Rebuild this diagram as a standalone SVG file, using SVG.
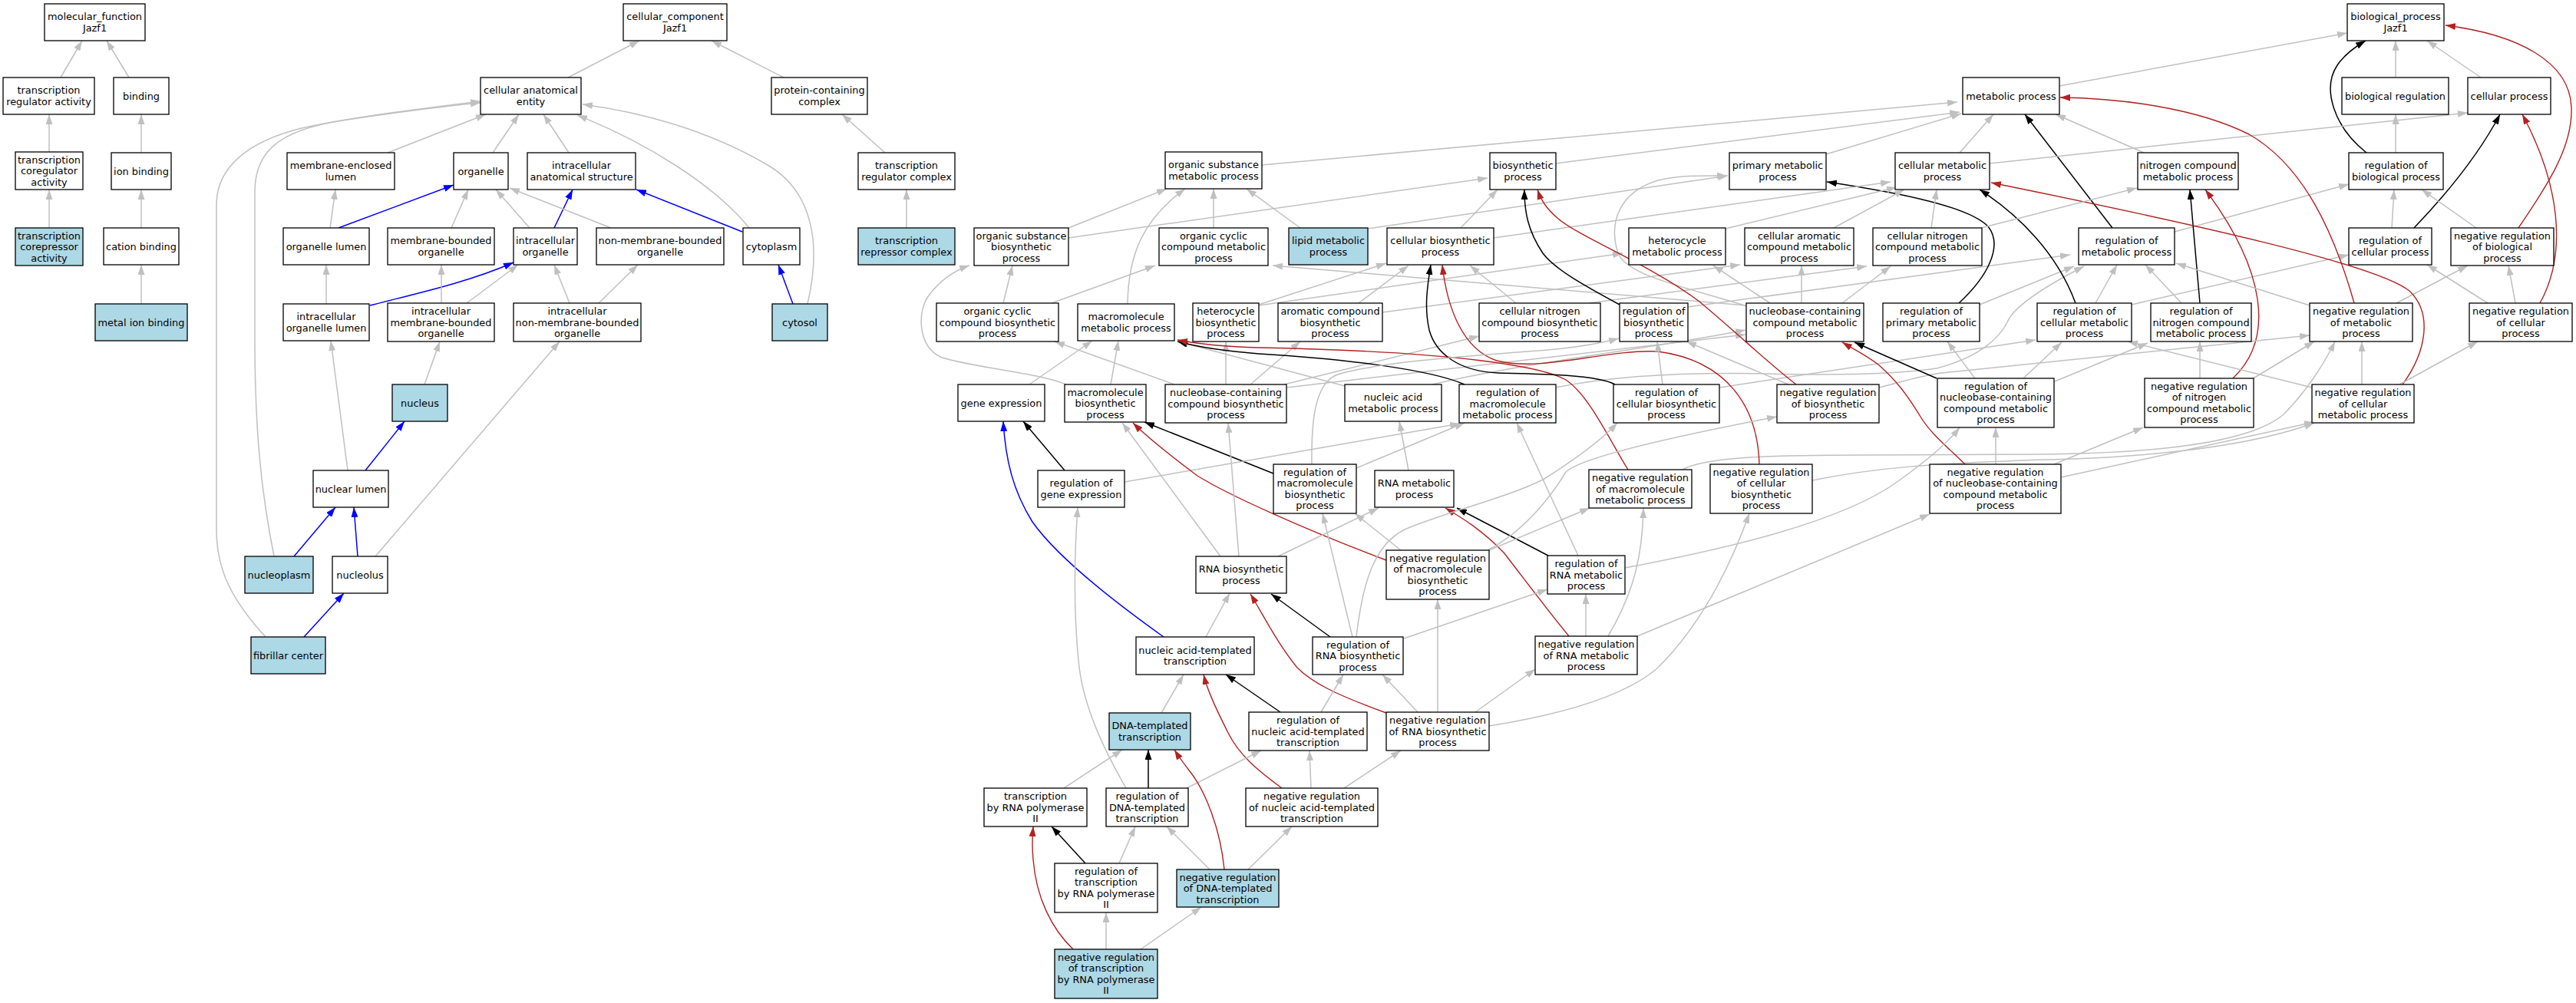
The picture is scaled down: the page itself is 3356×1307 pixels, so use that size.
<svg xmlns="http://www.w3.org/2000/svg" width="3356" height="1307" viewBox="0 0 3356 1307">
<style>
.n rect{fill:#fff;stroke:#000;stroke-width:1.3}
.n.hl rect{fill:#add8e6}
.n text{font-family:"DejaVu Sans","Liberation Sans",sans-serif;font-size:12.9px;text-anchor:middle;fill:#000}
.e path{fill:none;stroke-width:1.5}
.e path.g{stroke:#c0c0c0;marker-end:url(#mg)}
.e path.k{stroke:#000;marker-end:url(#mk)}
.e path.b{stroke:#0000ff;marker-end:url(#mb)}
.e path.r{stroke:#b22222;stroke-width:1.4;marker-end:url(#mr)}
</style>
<defs>
<marker id="mg" viewBox="0 0 13 9" refX="13" refY="4.5" markerWidth="13" markerHeight="9" markerUnits="userSpaceOnUse" orient="auto"><path d="M0,0L13,4.5L0,9z" fill="#c0c0c0"/></marker>
<marker id="mk" viewBox="0 0 13 9" refX="13" refY="4.5" markerWidth="13" markerHeight="9" markerUnits="userSpaceOnUse" orient="auto"><path d="M0,0L13,4.5L0,9z" fill="#000"/></marker>
<marker id="mb" viewBox="0 0 13 9" refX="13" refY="4.5" markerWidth="13" markerHeight="9" markerUnits="userSpaceOnUse" orient="auto"><path d="M0,0L13,4.5L0,9z" fill="#0000ff"/></marker>
<marker id="mr" viewBox="0 0 13 9" refX="13" refY="4.5" markerWidth="13" markerHeight="9" markerUnits="userSpaceOnUse" orient="auto"><path d="M0,0L13,4.5L0,9z" fill="#b22222"/></marker>
</defs>
<rect width="3356" height="1307" fill="#fff"/>
<g id="edges" class="e">
<path class="g" d="M79,101 L107,53"/>
<path class="g" d="M168,101 L139,53"/>
<path class="g" d="M64,198 L64,149"/>
<path class="g" d="M184,199 L184,149"/>
<path class="g" d="M64,297 L64,247"/>
<path class="g" d="M184,297 L184,247"/>
<path class="g" d="M184,396 L184,345"/>
<path class="g" d="M740,101 L833,53"/>
<path class="g" d="M1021,101 L927,53"/>
<path class="g" d="M1153,199 L1097,149"/>
<path class="g" d="M1181,297 L1181,247"/>
<path class="g" d="M642,199 L676,149"/>
<path class="g" d="M741,199 L708,149"/>
<path class="g" d="M505,199 L633,149"/>
<path class="g" d="M976,297 C930,240 840,185 752,150"/>
<path class="g" d="M1052,396 C1070,320 1060,250 1000,215 C920,168 830,145 759,136"/>
<path class="b" d="M967,302 L829,247"/>
<path class="b" d="M1033,396 L1014,345"/>
<path class="b" d="M722,297 L746,247"/>
<path class="g" d="M690,297 L646,247"/>
<path class="g" d="M588,297 L610,247"/>
<path class="g" d="M796,297 L664,245"/>
<path class="b" d="M441,297 L591,241"/>
<path class="g" d="M430,297 L437,247"/>
<path class="g" d="M425,396 L425,345"/>
<path class="b" d="M482,398 C540,383 610,368 669,342"/>
<path class="g" d="M575,395 L575,345"/>
<path class="g" d="M608,395 L675,345"/>
<path class="g" d="M742,395 L722,345"/>
<path class="g" d="M780,395 L831,345"/>
<path class="g" d="M553,501 L573,445"/>
<path class="b" d="M476,613 L527,549"/>
<path class="g" d="M453,613 L431,444"/>
<path class="b" d="M383,725 L437,661"/>
<path class="b" d="M466,725 L461,661"/>
<path class="g" d="M489,725 L729,445"/>
<path class="b" d="M396,830 L448,773"/>
<path class="g" d="M357,725 C340,640 332,560 332,440 L332,250 C332,200 360,170 446,157 C520,146 580,138 626,134"/>
<path class="g" d="M346,830 C300,780 282,740 282,690 L282,267 C282,220 320,185 393,167 C460,152 560,140 626,132"/>
<path class="g" d="M2683,112 L3058,43"/>
<path class="g" d="M3121,101 L3121,53"/>
<path class="g" d="M3232,101 L3162,53"/>
<path class="k" d="M3083,199 C3040,165 3025,115 3045,85 C3055,70 3070,60 3082,53"/>
<path class="r" d="M3281,297 C3320,240 3352,190 3350,140 C3348,80 3280,45 3186,33"/>
<path class="g" d="M3121,199 L3121,149"/>
<path class="g" d="M3116,297 L3119,247"/>
<path class="k" d="M3145,297 C3190,250 3230,200 3257,149"/>
<path class="g" d="M3226,297 L3155,247"/>
<path class="r" d="M3309,395 C3345,330 3335,240 3286,149"/>
<path class="g" d="M3241,395 L3162,345"/>
<path class="g" d="M3277,395 L3268,346"/>
<path class="g" d="M2833,302 L3060,240"/>
<path class="k" d="M2752,297 L2638,149"/>
<path class="g" d="M2793,199 L2678,149"/>
<path class="g" d="M2592,213 L3215,147"/>
<path class="g" d="M2777,397 L3060,332"/>
<path class="g" d="M2730,395 L2758,345"/>
<path class="g" d="M2842,395 L2795,345"/>
<path class="k" d="M2866,395 L2853,247"/>
<path class="r" d="M2909,493 C2965,440 2950,350 2873,247"/>
<path class="g" d="M3009,398 L2835,343"/>
<path class="r" d="M3067,395 C3040,300 3000,215 2930,175 C2860,140 2760,128 2684,127"/>
<path class="g" d="M3122,395 L3215,346"/>
<path class="g" d="M3077,501 L3077,445"/>
<path class="g" d="M2192,612 C2220,596 2300,593 2425,593 L2660,592 C2850,590 2940,570 2975,540 C3000,515 3025,480 3042,445"/>
<path class="g" d="M2929,497 L3015,445"/>
<path class="g" d="M2448,505 C2480,497 2500,490 2530,486 L3009,437"/>
<path class="g" d="M3012,505 L2772,445"/>
<path class="r" d="M3130,501 C3160,460 3170,410 3140,380 C3100,345 2850,290 2594,238"/>
<path class="g" d="M3126,501 L3228,445"/>
<path class="g" d="M2685,622 L3015,550"/>
<path class="g" d="M2361,626 C2440,610 2514,603 2700,598 C2850,592 2950,575 3015,551"/>
<path class="g" d="M2240,505 L2652,443"/>
<path class="g" d="M2027,505 C2100,490 2200,485 2300,487 C2420,490 2490,485 2523,480 C2580,465 2605,440 2615,420 C2625,395 2680,365 2715,347"/>
<path class="g" d="M2199,400 L2697,332"/>
<path class="g" d="M2579,397 L2702,347"/>
<path class="k" d="M2552,395 C2590,360 2610,320 2590,295 C2560,265 2450,248 2380,237"/>
<path class="k" d="M2523,493 L2416,446"/>
<path class="g" d="M2573,493 L2537,445"/>
<path class="g" d="M2636,493 L2686,446"/>
<path class="g" d="M2677,497 L2798,447"/>
<path class="k" d="M2704,395 C2680,330 2630,280 2579,247"/>
<path class="r" d="M2560,605 C2540,585 2515,565 2502,543 C2485,515 2470,495 2447,475 C2430,462 2415,455 2400,446"/>
<path class="g" d="M2600,605 L2600,557"/>
<path class="g" d="M2676,605 L2792,557"/>
<path class="g" d="M2866,493 L2866,445"/>
<path class="g" d="M2516,297 L2523,247"/>
<path class="g" d="M2581,297 L2784,245"/>
<path class="g" d="M2389,297 L2481,247"/>
<path class="g" d="M2248,298 L2471,244"/>
<path class="g" d="M1946,310 L2463,237"/>
<path class="g" d="M1903,297 L1951,247"/>
<path class="g" d="M1782,298 L2251,229"/>
<path class="g" d="M1694,297 L1624,246"/>
<path class="g" d="M1644,215 L2550,133"/>
<path class="g" d="M2027,213 L2553,146"/>
<path class="g" d="M2379,201 L2555,148"/>
<path class="g" d="M2553,199 L2597,149"/>
<path class="g" d="M1392,297 L1520,246"/>
<path class="g" d="M1392,310 L1938,232"/>
<path class="g" d="M1581,297 L1581,246"/>
<path class="g" d="M1469,396 C1470,330 1490,285 1544,246"/>
<path class="g" d="M1307,395 L1319,346"/>
<path class="g" d="M1370,395 L1505,346"/>
<path class="g" d="M1389,501 C1350,485 1260,478 1225,465 C1195,450 1195,405 1210,385 C1225,365 1245,352 1263,346"/>
<path class="g" d="M2275,398 L1658,346"/>
<path class="g" d="M2279,400 C2200,375 2120,360 2108,330 C2095,290 2110,250 2160,235 C2190,228 2220,229 2250,229"/>
<path class="g" d="M2306,395 L2232,346"/>
<path class="g" d="M2347,395 L2347,346"/>
<path class="g" d="M2400,395 L2463,347"/>
<path class="g" d="M1640,398 L2114,330"/>
<path class="g" d="M1640,397 L1806,343"/>
<path class="g" d="M1770,395 L1835,346"/>
<path class="g" d="M1801,407 L2267,345"/>
<path class="g" d="M1975,395 L1915,346"/>
<path class="g" d="M2070,395 L2432,347"/>
<path class="g" d="M1530,501 L1374,445"/>
<path class="g" d="M1597,501 L1597,445"/>
<path class="g" d="M1629,501 L1694,445"/>
<path class="g" d="M1673,501 L1927,438"/>
<path class="g" d="M1676,505 L2274,436"/>
<path class="g" d="M1752,503 L1535,445"/>
<path class="g" d="M1866,501 C2000,470 2150,455 2274,430"/>
<path class="g" d="M1341,501 L1423,444"/>
<path class="g" d="M1447,501 L1457,444"/>
<path class="k" d="M1908,501 C1860,480 1740,467 1640,461 C1590,457 1560,452 1534,445"/>
<path class="r" d="M2121,612 C2095,570 2070,515 2040,495 C2010,478 1900,458 1640,453 C1600,452 1570,450 1534,443"/>
<path class="r" d="M2292,605 C2290,530 2250,470 2160,458 C2090,455 2010,485 1950,470 C1905,455 1885,400 1879,345"/>
<path class="k" d="M2104,501 C2080,488 2000,487 1952,486 C1900,484 1870,460 1862,430 C1855,400 1860,370 1864,345"/>
<path class="k" d="M2110,397 C2060,370 2025,350 2010,330 C1990,300 1986,275 1986,247"/>
<path class="r" d="M2340,501 C2300,470 2270,440 2214,393 C2150,345 2060,310 2030,285 C2015,272 2008,262 2003,247"/>
<path class="g" d="M2166,501 L2159,445"/>
<path class="g" d="M2330,501 L2197,445"/>
<path class="g" d="M1709,605 C1708,540 1715,495 1746,487 C1800,472 1900,465 1990,458 C2040,455 2075,450 2109,441"/>
<path class="g" d="M1767,610 L1908,551"/>
<path class="k" d="M1659,617 L1491,550"/>
<path class="g" d="M1465,628 L1902,552"/>
<path class="k" d="M1387,613 L1333,549"/>
<path class="g" d="M1835,613 L1823,549"/>
<path class="g" d="M2056,724 L1976,551"/>
<path class="k" d="M2017,724 L1898,662"/>
<path class="g" d="M2117,740 C2250,715 2400,680 2473,627 C2510,600 2535,580 2553,557"/>
<path class="r" d="M2044,829 C2020,800 1990,760 1959,720 C1930,690 1905,675 1883,662"/>
<path class="g" d="M2066,829 L2066,774"/>
<path class="g" d="M2095,829 C2130,770 2140,720 2141,662"/>
<path class="g" d="M2133,829 L2514,670"/>
<path class="r" d="M1806,730 C1700,690 1600,645 1560,620 C1520,590 1495,570 1476,551"/>
<path class="g" d="M1940,717 L2071,662"/>
<path class="g" d="M1938,717 C1990,690 2025,640 2040,615 C2060,595 2200,565 2315,543"/>
<path class="g" d="M1825,717 L1765,669"/>
<path class="k" d="M1733,830 L1656,774"/>
<path class="g" d="M1829,832 L2016,768"/>
<path class="g" d="M1762,830 L1723,669"/>
<path class="g" d="M1767,830 C1775,760 1790,710 1830,690 C1880,668 1960,650 2010,625 C2050,600 2085,575 2107,551"/>
<path class="r" d="M1806,929 C1740,905 1710,890 1690,870 C1665,840 1645,800 1629,774"/>
<path class="g" d="M1847,928 L1801,879"/>
<path class="g" d="M1873,928 L1873,781"/>
<path class="g" d="M1922,928 L2000,872"/>
<path class="g" d="M1940,946 C2040,930 2120,905 2160,870 C2210,820 2250,750 2279,669"/>
<path class="g" d="M1571,830 L1602,773"/>
<path class="b" d="M1516,830 C1460,790 1380,730 1345,680 C1320,640 1310,600 1307,549"/>
<path class="k" d="M1668,928 L1597,879"/>
<path class="g" d="M1721,928 L1750,879"/>
<path class="g" d="M1513,929 L1542,879"/>
<path class="r" d="M1670,1027 C1640,1005 1615,985 1600,955 C1585,925 1573,900 1568,879"/>
<path class="g" d="M1708,1027 L1706,978"/>
<path class="g" d="M1751,1027 L1825,978"/>
<path class="k" d="M1496,1027 L1496,977"/>
<path class="g" d="M1546,1027 L1643,978"/>
<path class="g" d="M1467,1027 C1440,980 1410,920 1405,860 C1398,790 1400,720 1404,661"/>
<path class="g" d="M1386,1027 L1462,977"/>
<path class="k" d="M1414,1125 L1370,1077"/>
<path class="g" d="M1458,1125 L1479,1077"/>
<path class="g" d="M1576,1133 L1520,1077"/>
<path class="g" d="M1626,1133 L1683,1077"/>
<path class="r" d="M1595,1133 C1590,1080 1570,1030 1550,1005 C1540,992 1535,985 1530,977"/>
<path class="g" d="M1441,1237 L1441,1189"/>
<path class="g" d="M1486,1237 L1565,1182"/>
<path class="r" d="M1398,1237 C1370,1210 1350,1170 1346,1120 C1344,1100 1345,1090 1346,1077"/>
<path class="g" d="M1590,725 L1462,551"/>
<path class="g" d="M1614,725 L1600,551"/>
<path class="g" d="M1665,725 L1796,662"/>
</g>
<g id="n_mf" class="n"><rect x="58" y="5" width="131" height="48"/><text><tspan x="123.5" y="26.25">molecular_function</tspan><tspan x="123.5" y="40.75">Jazf1</tspan></text></g>
<g id="n_tra" class="n"><rect x="4" y="101" width="119" height="48"/><text><tspan x="63.5" y="122.25">transcription</tspan><tspan x="63.5" y="136.75">regulator activity</tspan></text></g>
<g id="n_binding" class="n"><rect x="148" y="101" width="72" height="48"/><text><tspan x="184" y="129.5">binding</tspan></text></g>
<g id="n_tca" class="n"><rect x="20" y="198" width="88" height="49"/><text><tspan x="64" y="212.5">transcription</tspan><tspan x="64" y="227">coregulator</tspan><tspan x="64" y="241.5">activity</tspan></text></g>
<g id="n_ionb" class="n"><rect x="145" y="199" width="78" height="48"/><text><tspan x="184" y="227.5">ion binding</tspan></text></g>
<g id="n_tcpa" class="n hl"><rect x="20" y="297" width="88" height="49"/><text><tspan x="64" y="311.5">transcription</tspan><tspan x="64" y="326">corepressor</tspan><tspan x="64" y="340.5">activity</tspan></text></g>
<g id="n_catb" class="n"><rect x="135" y="297" width="98" height="48"/><text><tspan x="184" y="325.5">cation binding</tspan></text></g>
<g id="n_metb" class="n hl"><rect x="124" y="396" width="120" height="48"/><text><tspan x="184" y="424.5">metal ion binding</tspan></text></g>
<g id="n_cc" class="n"><rect x="812" y="5" width="135" height="48"/><text><tspan x="879.5" y="26.25">cellular_component</tspan><tspan x="879.5" y="40.75">Jazf1</tspan></text></g>
<g id="n_cae" class="n"><rect x="626" y="101" width="131" height="48"/><text><tspan x="691.5" y="122.25">cellular anatomical</tspan><tspan x="691.5" y="136.75">entity</tspan></text></g>
<g id="n_pcc" class="n"><rect x="1005" y="101" width="125" height="48"/><text><tspan x="1067.5" y="122.25">protein-containing</tspan><tspan x="1067.5" y="136.75">complex</tspan></text></g>
<g id="n_mel" class="n"><rect x="374" y="199" width="140" height="48"/><text><tspan x="444" y="220.25">membrane-enclosed</tspan><tspan x="444" y="234.75">lumen</tspan></text></g>
<g id="n_org" class="n"><rect x="591" y="199" width="71" height="48"/><text><tspan x="626.5" y="227.5">organelle</tspan></text></g>
<g id="n_ias" class="n"><rect x="687" y="199" width="141" height="48"/><text><tspan x="757.5" y="220.25">intracellular</tspan><tspan x="757.5" y="234.75">anatomical structure</tspan></text></g>
<g id="n_trc" class="n"><rect x="1118" y="199" width="126" height="48"/><text><tspan x="1181" y="220.25">transcription</tspan><tspan x="1181" y="234.75">regulator complex</tspan></text></g>
<g id="n_ol" class="n"><rect x="369" y="297" width="112" height="48"/><text><tspan x="425" y="325.5">organelle lumen</tspan></text></g>
<g id="n_mbo" class="n"><rect x="505" y="297" width="139" height="48"/><text><tspan x="574.5" y="318.25">membrane-bounded</tspan><tspan x="574.5" y="332.75">organelle</tspan></text></g>
<g id="n_io" class="n"><rect x="669" y="297" width="83" height="48"/><text><tspan x="710.5" y="318.25">intracellular</tspan><tspan x="710.5" y="332.75">organelle</tspan></text></g>
<g id="n_nmbo" class="n"><rect x="777" y="297" width="166" height="48"/><text><tspan x="860" y="318.25">non-membrane-bounded</tspan><tspan x="860" y="332.75">organelle</tspan></text></g>
<g id="n_cyto" class="n"><rect x="968" y="297" width="74" height="48"/><text><tspan x="1005" y="325.5">cytoplasm</tspan></text></g>
<g id="n_trpc" class="n hl"><rect x="1118" y="297" width="126" height="48"/><text><tspan x="1181" y="318.25">transcription</tspan><tspan x="1181" y="332.75">repressor complex</tspan></text></g>
<g id="n_iol" class="n"><rect x="369" y="396" width="112" height="48"/><text><tspan x="425" y="417.25">intracellular</tspan><tspan x="425" y="431.75">organelle lumen</tspan></text></g>
<g id="n_imbo" class="n"><rect x="505" y="395" width="139" height="50"/><text><tspan x="574.5" y="410">intracellular</tspan><tspan x="574.5" y="424.5">membrane-bounded</tspan><tspan x="574.5" y="439">organelle</tspan></text></g>
<g id="n_inmbo" class="n"><rect x="669" y="395" width="166" height="50"/><text><tspan x="752" y="410">intracellular</tspan><tspan x="752" y="424.5">non-membrane-bounded</tspan><tspan x="752" y="439">organelle</tspan></text></g>
<g id="n_cytosol" class="n hl"><rect x="1006" y="396" width="72" height="48"/><text><tspan x="1042" y="424.5">cytosol</tspan></text></g>
<g id="n_nucleus" class="n hl"><rect x="511" y="501" width="72" height="48"/><text><tspan x="547" y="529.5">nucleus</tspan></text></g>
<g id="n_nl" class="n"><rect x="408" y="613" width="98" height="48"/><text><tspan x="457" y="641.5">nuclear lumen</tspan></text></g>
<g id="n_npl" class="n hl"><rect x="319" y="725" width="89" height="48"/><text><tspan x="363.5" y="753.5">nucleoplasm</tspan></text></g>
<g id="n_nuo" class="n"><rect x="433" y="725" width="72" height="48"/><text><tspan x="469" y="753.5">nucleolus</tspan></text></g>
<g id="n_fc" class="n hl"><rect x="327" y="830" width="97" height="48"/><text><tspan x="375.5" y="858.5">fibrillar center</tspan></text></g>
<g id="n_bp" class="n"><rect x="3058" y="5" width="126" height="48"/><text><tspan x="3121" y="26.25">biological_process</tspan><tspan x="3121" y="40.75">Jazf1</tspan></text></g>
<g id="n_met" class="n"><rect x="2557" y="101" width="126" height="48"/><text><tspan x="2620" y="129.5">metabolic process</tspan></text></g>
<g id="n_bioreg" class="n"><rect x="3051" y="101" width="139" height="48"/><text><tspan x="3120.5" y="129.5">biological regulation</tspan></text></g>
<g id="n_cellproc" class="n"><rect x="3215" y="101" width="108" height="48"/><text><tspan x="3269" y="129.5">cellular process</tspan></text></g>
<g id="n_osmp" class="n"><rect x="1518" y="198" width="126" height="48"/><text><tspan x="1581" y="219.25">organic substance</tspan><tspan x="1581" y="233.75">metabolic process</tspan></text></g>
<g id="n_bios" class="n"><rect x="1941" y="199" width="86" height="48"/><text><tspan x="1984" y="220.25">biosynthetic</tspan><tspan x="1984" y="234.75">process</tspan></text></g>
<g id="n_prim" class="n"><rect x="2253" y="199" width="126" height="48"/><text><tspan x="2316" y="220.25">primary metabolic</tspan><tspan x="2316" y="234.75">process</tspan></text></g>
<g id="n_cmp" class="n"><rect x="2469" y="199" width="123" height="48"/><text><tspan x="2530.5" y="220.25">cellular metabolic</tspan><tspan x="2530.5" y="234.75">process</tspan></text></g>
<g id="n_ncmp" class="n"><rect x="2785" y="199" width="131" height="48"/><text><tspan x="2850.5" y="220.25">nitrogen compound</tspan><tspan x="2850.5" y="234.75">metabolic process</tspan></text></g>
<g id="n_rbp" class="n"><rect x="3060" y="199" width="123" height="48"/><text><tspan x="3121.5" y="220.25">regulation of</tspan><tspan x="3121.5" y="234.75">biological process</tspan></text></g>
<g id="n_osbp" class="n"><rect x="1269" y="297" width="123" height="49"/><text><tspan x="1330.5" y="311.5">organic substance</tspan><tspan x="1330.5" y="326">biosynthetic</tspan><tspan x="1330.5" y="340.5">process</tspan></text></g>
<g id="n_occmp" class="n"><rect x="1510" y="297" width="142" height="49"/><text><tspan x="1581" y="311.5">organic cyclic</tspan><tspan x="1581" y="326">compound metabolic</tspan><tspan x="1581" y="340.5">process</tspan></text></g>
<g id="n_lipid" class="n hl"><rect x="1679" y="297" width="103" height="48"/><text><tspan x="1730.5" y="318.25">lipid metabolic</tspan><tspan x="1730.5" y="332.75">process</tspan></text></g>
<g id="n_cbp" class="n"><rect x="1807" y="297" width="139" height="48"/><text><tspan x="1876.5" y="318.25">cellular biosynthetic</tspan><tspan x="1876.5" y="332.75">process</tspan></text></g>
<g id="n_hmp" class="n"><rect x="2122" y="297" width="126" height="48"/><text><tspan x="2185" y="318.25">heterocycle</tspan><tspan x="2185" y="332.75">metabolic process</tspan></text></g>
<g id="n_camp" class="n"><rect x="2273" y="297" width="142" height="49"/><text><tspan x="2344" y="311.5">cellular aromatic</tspan><tspan x="2344" y="326">compound metabolic</tspan><tspan x="2344" y="340.5">process</tspan></text></g>
<g id="n_cncmp" class="n"><rect x="2440" y="297" width="142" height="49"/><text><tspan x="2511" y="311.5">cellular nitrogen</tspan><tspan x="2511" y="326">compound metabolic</tspan><tspan x="2511" y="340.5">process</tspan></text></g>
<g id="n_rmp" class="n"><rect x="2708" y="297" width="125" height="48"/><text><tspan x="2770.5" y="318.25">regulation of</tspan><tspan x="2770.5" y="332.75">metabolic process</tspan></text></g>
<g id="n_rcp" class="n"><rect x="3060" y="297" width="108" height="48"/><text><tspan x="3114" y="318.25">regulation of</tspan><tspan x="3114" y="332.75">cellular process</tspan></text></g>
<g id="n_nrbp" class="n"><rect x="3193" y="297" width="134" height="49"/><text><tspan x="3260" y="311.5">negative regulation</tspan><tspan x="3260" y="326">of biological</tspan><tspan x="3260" y="340.5">process</tspan></text></g>
<g id="n_occbp" class="n"><rect x="1220" y="395" width="159" height="50"/><text><tspan x="1299.5" y="410">organic cyclic</tspan><tspan x="1299.5" y="424.5">compound biosynthetic</tspan><tspan x="1299.5" y="439">process</tspan></text></g>
<g id="n_mmp" class="n"><rect x="1404" y="396" width="126" height="48"/><text><tspan x="1467" y="417.25">macromolecule</tspan><tspan x="1467" y="431.75">metabolic process</tspan></text></g>
<g id="n_hbp" class="n"><rect x="1554" y="395" width="86" height="50"/><text><tspan x="1597" y="410">heterocycle</tspan><tspan x="1597" y="424.5">biosynthetic</tspan><tspan x="1597" y="439">process</tspan></text></g>
<g id="n_abp" class="n"><rect x="1665" y="395" width="136" height="50"/><text><tspan x="1733" y="410">aromatic compound</tspan><tspan x="1733" y="424.5">biosynthetic</tspan><tspan x="1733" y="439">process</tspan></text></g>
<g id="n_cncbp" class="n"><rect x="1927" y="395" width="158" height="50"/><text><tspan x="2006" y="410">cellular nitrogen</tspan><tspan x="2006" y="424.5">compound biosynthetic</tspan><tspan x="2006" y="439">process</tspan></text></g>
<g id="n_rbsp" class="n"><rect x="2110" y="395" width="89" height="50"/><text><tspan x="2154.5" y="410">regulation of</tspan><tspan x="2154.5" y="424.5">biosynthetic</tspan><tspan x="2154.5" y="439">process</tspan></text></g>
<g id="n_ncmpb" class="n"><rect x="2275" y="395" width="153" height="50"/><text><tspan x="2351.5" y="410">nucleobase-containing</tspan><tspan x="2351.5" y="424.5">compound metabolic</tspan><tspan x="2351.5" y="439">process</tspan></text></g>
<g id="n_rpmp" class="n"><rect x="2453" y="395" width="126" height="50"/><text><tspan x="2516" y="410">regulation of</tspan><tspan x="2516" y="424.5">primary metabolic</tspan><tspan x="2516" y="439">process</tspan></text></g>
<g id="n_rcmp" class="n"><rect x="2654" y="395" width="123" height="50"/><text><tspan x="2715.5" y="410">regulation of</tspan><tspan x="2715.5" y="424.5">cellular metabolic</tspan><tspan x="2715.5" y="439">process</tspan></text></g>
<g id="n_rncmp" class="n"><rect x="2802" y="395" width="131" height="50"/><text><tspan x="2867.5" y="410">regulation of</tspan><tspan x="2867.5" y="424.5">nitrogen compound</tspan><tspan x="2867.5" y="439">metabolic process</tspan></text></g>
<g id="n_nrmp" class="n"><rect x="3009" y="395" width="134" height="50"/><text><tspan x="3076" y="410">negative regulation</tspan><tspan x="3076" y="424.5">of metabolic</tspan><tspan x="3076" y="439">process</tspan></text></g>
<g id="n_nrcp" class="n"><rect x="3217" y="395" width="134" height="50"/><text><tspan x="3284" y="410">negative regulation</tspan><tspan x="3284" y="424.5">of cellular</tspan><tspan x="3284" y="439">process</tspan></text></g>
<g id="n_geneexp" class="n"><rect x="1248" y="501" width="113" height="48"/><text><tspan x="1304.5" y="529.5">gene expression</tspan></text></g>
<g id="n_mbp" class="n"><rect x="1387" y="501" width="106" height="49"/><text><tspan x="1440" y="515.5">macromolecule</tspan><tspan x="1440" y="530">biosynthetic</tspan><tspan x="1440" y="544.5">process</tspan></text></g>
<g id="n_ncbp" class="n"><rect x="1518" y="501" width="158" height="50"/><text><tspan x="1597" y="516">nucleobase-containing</tspan><tspan x="1597" y="530.5">compound biosynthetic</tspan><tspan x="1597" y="545">process</tspan></text></g>
<g id="n_nam" class="n"><rect x="1752" y="501" width="126" height="48"/><text><tspan x="1815" y="522.25">nucleic acid</tspan><tspan x="1815" y="536.75">metabolic process</tspan></text></g>
<g id="n_rmmp" class="n"><rect x="1901" y="501" width="126" height="50"/><text><tspan x="1964" y="516">regulation of</tspan><tspan x="1964" y="530.5">macromolecule</tspan><tspan x="1964" y="545">metabolic process</tspan></text></g>
<g id="n_rcbp" class="n"><rect x="2102" y="501" width="138" height="50"/><text><tspan x="2171" y="516">regulation of</tspan><tspan x="2171" y="530.5">cellular biosynthetic</tspan><tspan x="2171" y="545">process</tspan></text></g>
<g id="n_nrbsp" class="n"><rect x="2315" y="501" width="133" height="50"/><text><tspan x="2381.5" y="516">negative regulation</tspan><tspan x="2381.5" y="530.5">of biosynthetic</tspan><tspan x="2381.5" y="545">process</tspan></text></g>
<g id="n_rncmpb" class="n"><rect x="2524" y="493" width="152" height="64"/><text><tspan x="2600" y="507.75">regulation of</tspan><tspan x="2600" y="522.25">nucleobase-containing</tspan><tspan x="2600" y="536.75">compound metabolic</tspan><tspan x="2600" y="551.25">process</tspan></text></g>
<g id="n_nrncmp" class="n"><rect x="2794" y="493" width="142" height="64"/><text><tspan x="2865" y="507.75">negative regulation</tspan><tspan x="2865" y="522.25">of nitrogen</tspan><tspan x="2865" y="536.75">compound metabolic</tspan><tspan x="2865" y="551.25">process</tspan></text></g>
<g id="n_nrcmp" class="n"><rect x="3012" y="501" width="133" height="50"/><text><tspan x="3078.5" y="516">negative regulation</tspan><tspan x="3078.5" y="530.5">of cellular</tspan><tspan x="3078.5" y="545">metabolic process</tspan></text></g>
<g id="n_rge" class="n"><rect x="1352" y="613" width="113" height="48"/><text><tspan x="1408.5" y="634.25">regulation of</tspan><tspan x="1408.5" y="648.75">gene expression</tspan></text></g>
<g id="n_rmbp" class="n"><rect x="1659" y="605" width="108" height="64"/><text><tspan x="1713" y="619.75">regulation of</tspan><tspan x="1713" y="634.25">macromolecule</tspan><tspan x="1713" y="648.75">biosynthetic</tspan><tspan x="1713" y="663.25">process</tspan></text></g>
<g id="n_rnamp" class="n"><rect x="1791" y="613" width="103" height="48"/><text><tspan x="1842.5" y="634.25">RNA metabolic</tspan><tspan x="1842.5" y="648.75">process</tspan></text></g>
<g id="n_nrmmp" class="n"><rect x="2070" y="612" width="134" height="50"/><text><tspan x="2137" y="627">negative regulation</tspan><tspan x="2137" y="641.5">of macromolecule</tspan><tspan x="2137" y="656">metabolic process</tspan></text></g>
<g id="n_nrcbp" class="n"><rect x="2228" y="605" width="133" height="64"/><text><tspan x="2294.5" y="619.75">negative regulation</tspan><tspan x="2294.5" y="634.25">of cellular</tspan><tspan x="2294.5" y="648.75">biosynthetic</tspan><tspan x="2294.5" y="663.25">process</tspan></text></g>
<g id="n_nrncmpb" class="n"><rect x="2514" y="605" width="171" height="64"/><text><tspan x="2599.5" y="619.75">negative regulation</tspan><tspan x="2599.5" y="634.25">of nucleobase-containing</tspan><tspan x="2599.5" y="648.75">compound metabolic</tspan><tspan x="2599.5" y="663.25">process</tspan></text></g>
<g id="n_rnabp" class="n"><rect x="1558" y="725" width="118" height="48"/><text><tspan x="1617" y="746.25">RNA biosynthetic</tspan><tspan x="1617" y="760.75">process</tspan></text></g>
<g id="n_nrmbp" class="n"><rect x="1806" y="717" width="134" height="64"/><text><tspan x="1873" y="731.75">negative regulation</tspan><tspan x="1873" y="746.25">of macromolecule</tspan><tspan x="1873" y="760.75">biosynthetic</tspan><tspan x="1873" y="775.25">process</tspan></text></g>
<g id="n_rrmp" class="n"><rect x="2016" y="724" width="101" height="50"/><text><tspan x="2066.5" y="739">regulation of</tspan><tspan x="2066.5" y="753.5">RNA metabolic</tspan><tspan x="2066.5" y="768">process</tspan></text></g>
<g id="n_nat" class="n"><rect x="1480" y="830" width="154" height="49"/><text><tspan x="1557" y="851.75">nucleic acid-templated</tspan><tspan x="1557" y="866.25">transcription</tspan></text></g>
<g id="n_rrbp" class="n"><rect x="1710" y="830" width="118" height="49"/><text><tspan x="1769" y="844.5">regulation of</tspan><tspan x="1769" y="859">RNA biosynthetic</tspan><tspan x="1769" y="873.5">process</tspan></text></g>
<g id="n_nrrmp" class="n"><rect x="2000" y="829" width="133" height="50"/><text><tspan x="2066.5" y="844">negative regulation</tspan><tspan x="2066.5" y="858.5">of RNA metabolic</tspan><tspan x="2066.5" y="873">process</tspan></text></g>
<g id="n_dnat" class="n hl"><rect x="1445" y="929" width="106" height="48"/><text><tspan x="1498" y="950.25">DNA-templated</tspan><tspan x="1498" y="964.75">transcription</tspan></text></g>
<g id="n_rnat" class="n"><rect x="1627" y="928" width="154" height="50"/><text><tspan x="1704" y="943">regulation of</tspan><tspan x="1704" y="957.5">nucleic acid-templated</tspan><tspan x="1704" y="972">transcription</tspan></text></g>
<g id="n_nrrbp" class="n"><rect x="1806" y="928" width="134" height="50"/><text><tspan x="1873" y="943">negative regulation</tspan><tspan x="1873" y="957.5">of RNA biosynthetic</tspan><tspan x="1873" y="972">process</tspan></text></g>
<g id="n_tpol" class="n"><rect x="1282" y="1027" width="134" height="50"/><text><tspan x="1349" y="1042">transcription</tspan><tspan x="1349" y="1056.5">by RNA polymerase</tspan><tspan x="1349" y="1071">II</tspan></text></g>
<g id="n_rdnat" class="n"><rect x="1441" y="1027" width="107" height="50"/><text><tspan x="1494.5" y="1042">regulation of</tspan><tspan x="1494.5" y="1056.5">DNA-templated</tspan><tspan x="1494.5" y="1071">transcription</tspan></text></g>
<g id="n_nrnat" class="n"><rect x="1623" y="1027" width="172" height="50"/><text><tspan x="1709" y="1042">negative regulation</tspan><tspan x="1709" y="1056.5">of nucleic acid-templated</tspan><tspan x="1709" y="1071">transcription</tspan></text></g>
<g id="n_rtpol" class="n"><rect x="1374" y="1125" width="134" height="64"/><text><tspan x="1441" y="1139.75">regulation of</tspan><tspan x="1441" y="1154.25">transcription</tspan><tspan x="1441" y="1168.75">by RNA polymerase</tspan><tspan x="1441" y="1183.25">II</tspan></text></g>
<g id="n_nrdnat" class="n hl"><rect x="1533" y="1133" width="133" height="49"/><text><tspan x="1599.5" y="1147.5">negative regulation</tspan><tspan x="1599.5" y="1162">of DNA-templated</tspan><tspan x="1599.5" y="1176.5">transcription</tspan></text></g>
<g id="n_nrtpol" class="n hl"><rect x="1374" y="1237" width="134" height="64"/><text><tspan x="1441" y="1251.75">negative regulation</tspan><tspan x="1441" y="1266.25">of transcription</tspan><tspan x="1441" y="1280.75">by RNA polymerase</tspan><tspan x="1441" y="1295.25">II</tspan></text></g>
</svg>
